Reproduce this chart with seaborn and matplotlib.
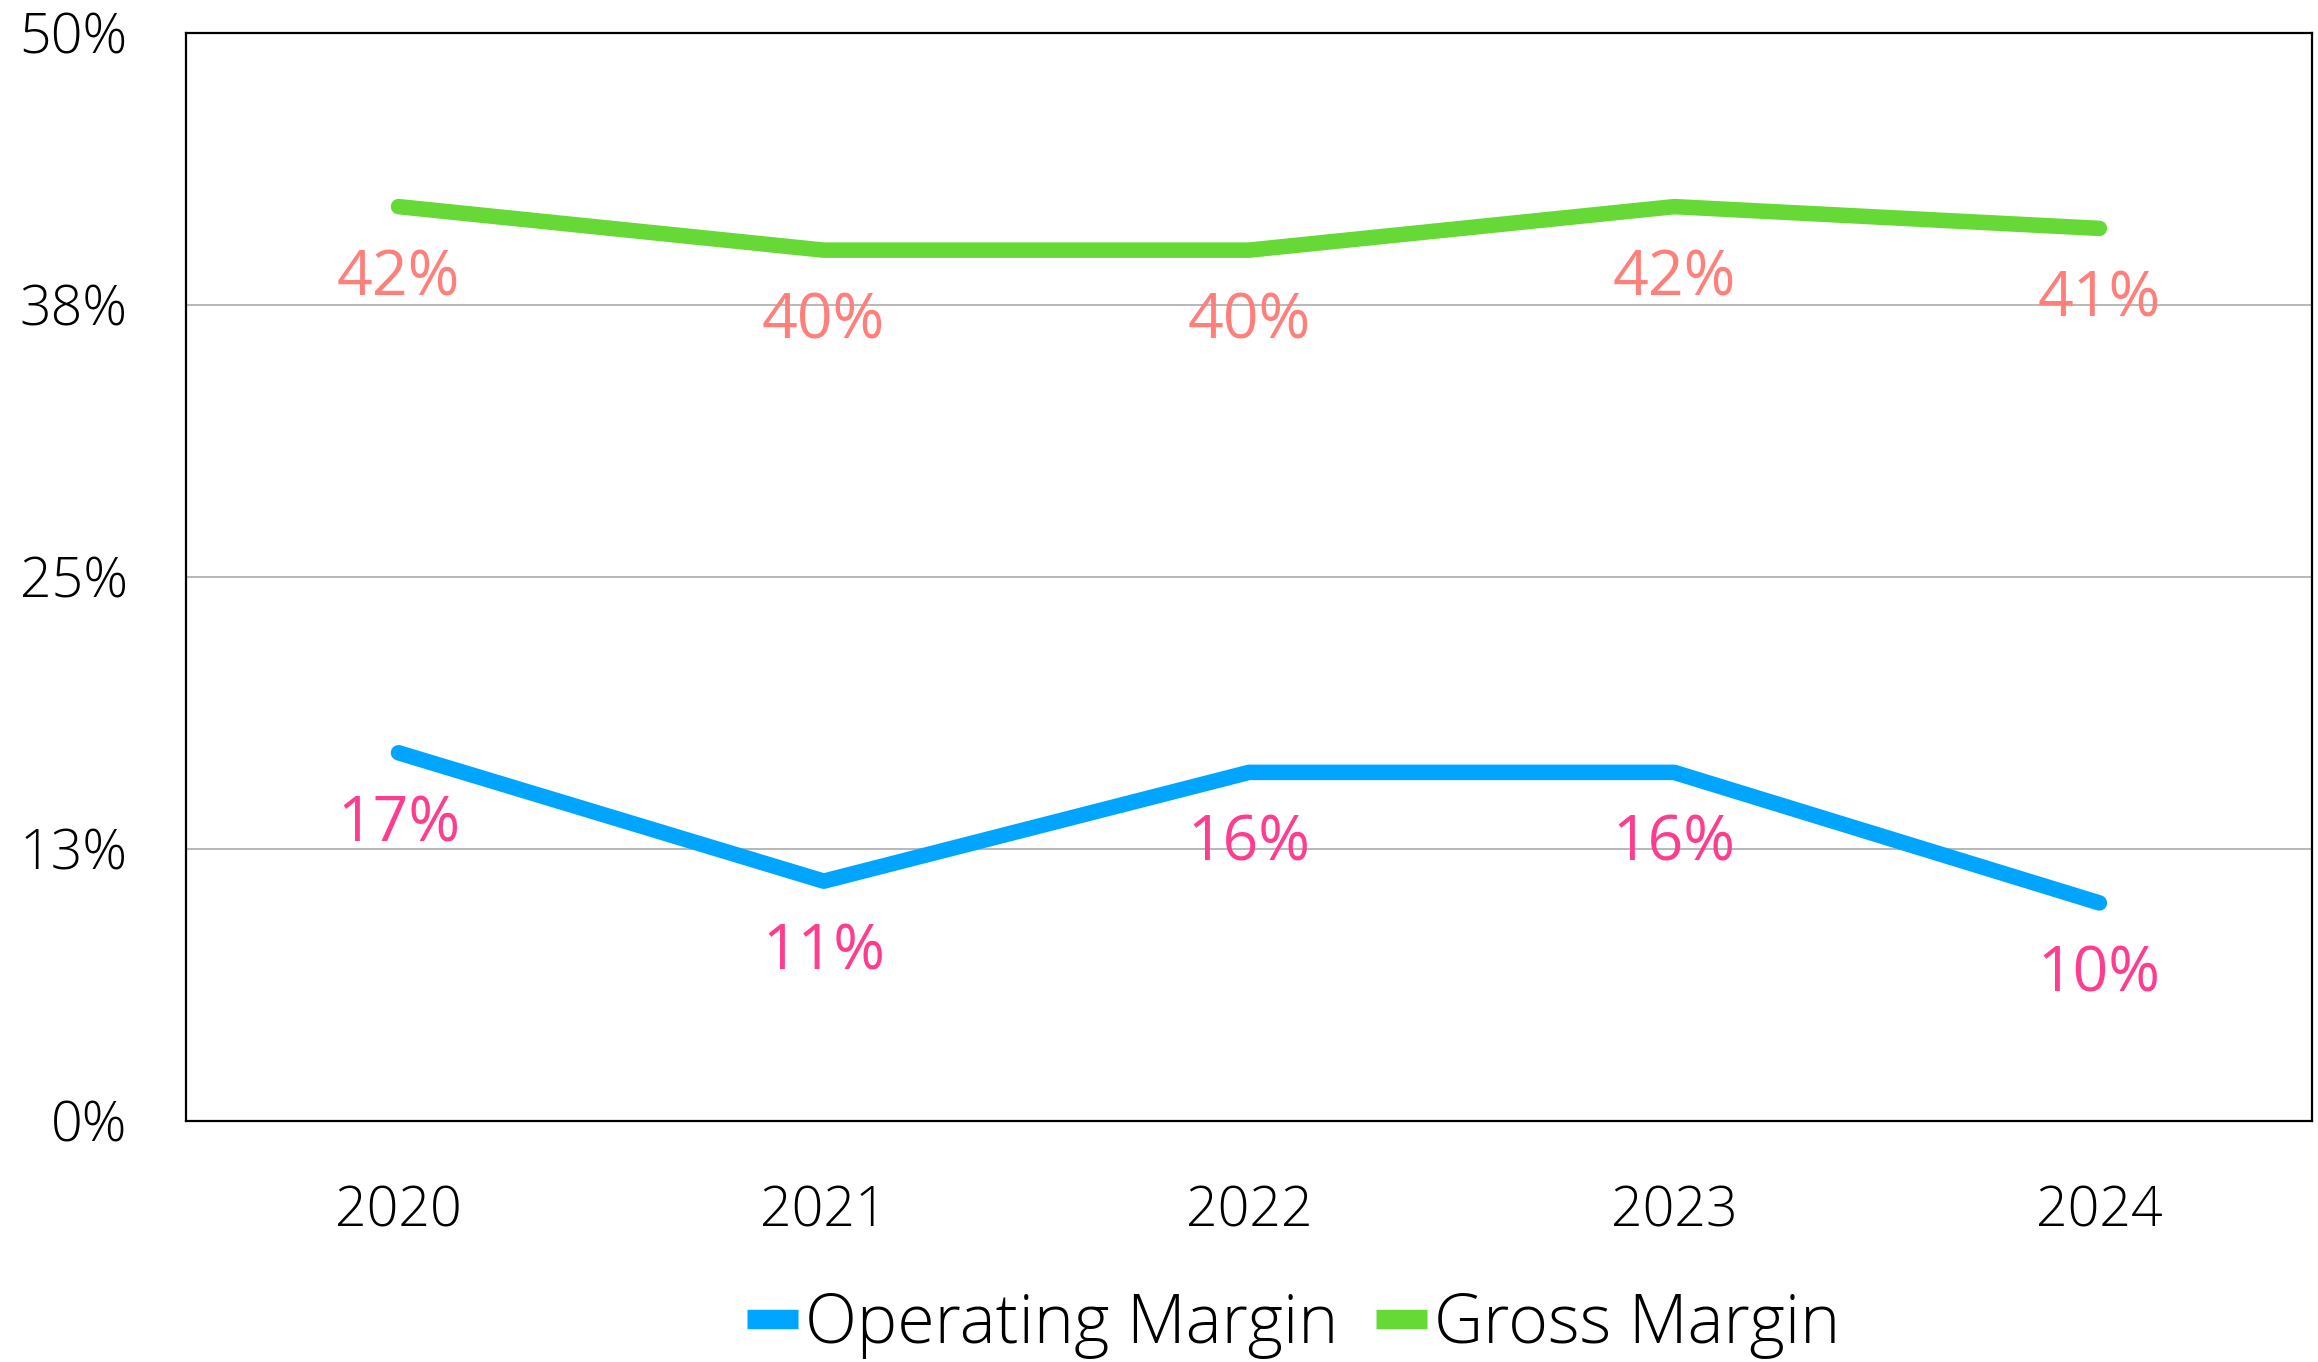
import matplotlib
matplotlib.use("Agg")
import matplotlib.pyplot as plt
from matplotlib.lines import Line2D
import pandas as pd
import seaborn as sns

YEARS = ["2020", "2021", "2022", "2023", "2024"]
OPERATING = [16.9, 11.0, 16.0, 16.0, 10.0]
GROSS = [42.0, 40.0, 40.0, 42.0, 41.0]
SERIES = ["Operating Margin", "Gross Margin"]
Y_TICKS = [0, 12.5, 25, 37.5, 50]

LINE_COLORS = {"Operating Margin": "#00a5ff", "Gross Margin": "#66d936"}
LABEL_COLORS = {"Operating Margin": "#ff3d8f", "Gross Margin": "#ff7f7a"}

df = pd.DataFrame({
    "Year": YEARS * 2,
    "Margin": OPERATING + GROSS,
    "Series": [SERIES[0]] * len(YEARS) + [SERIES[1]] * len(YEARS),
})

sns.set_style("white")
plt.rcParams["font.family"] = ["Open Sans", "DejaVu Sans"]
plt.rcParams.update({"text.color": "black", "xtick.color": "black", "ytick.color": "black"})

fig = plt.figure(figsize=(11.59, 6.81), dpi=200)
ax = fig.add_axes([0.0802, 0.1773, 0.9172, 0.7988])

sns.lineplot(data=df, x="Year", y="Margin", hue="Series", hue_order=SERIES,
             palette=LINE_COLORS, lw=5.6, ax=ax, legend=False, sort=False)

for series, vals in zip(SERIES, [OPERATING, GROSS]):
    for i, v in enumerate(vals):
        ax.annotate(f"{v:.0f}%", (i, v), xytext=(0, -26), textcoords="offset points",
                    ha="center", va="center", fontsize=22.5, color=LABEL_COLORS[series])

ax.set_xlim(-0.5, len(YEARS) - 0.5)
ax.set_ylim(0, 50)
ax.set_yticks(Y_TICKS)
ax.set_yticklabels([f"{t:.0f}%" if t != 12.5 else "13%" for t in Y_TICKS])
ax.yaxis.grid(True, color="#b8b8b8", lw=0.7)
ax.xaxis.grid(False)
ax.tick_params(axis="y", length=0, pad=21, labelsize=20)
ax.tick_params(axis="x", length=0, pad=23, labelsize=20)
for lab in ax.get_xticklabels() + ax.get_yticklabels():
    lab.set_fontweight("light")
for s in ax.spines.values():
    s.set_color("black")
    s.set_linewidth(0.8)
ax.set_xlabel("")
ax.set_ylabel("")

handles = [Line2D([], [], color=LINE_COLORS[s], lw=7, solid_capstyle="butt") for s in SERIES]
fig.legend(handles, SERIES, loc="center", bbox_to_anchor=(0.558, 0.027), ncol=2,
           frameon=False, handlelength=0.75, handletextpad=0.1, columnspacing=0.55,
           prop={"size": 24.5, "weight": "light"})

fig.savefig("out.png", dpi=200)
